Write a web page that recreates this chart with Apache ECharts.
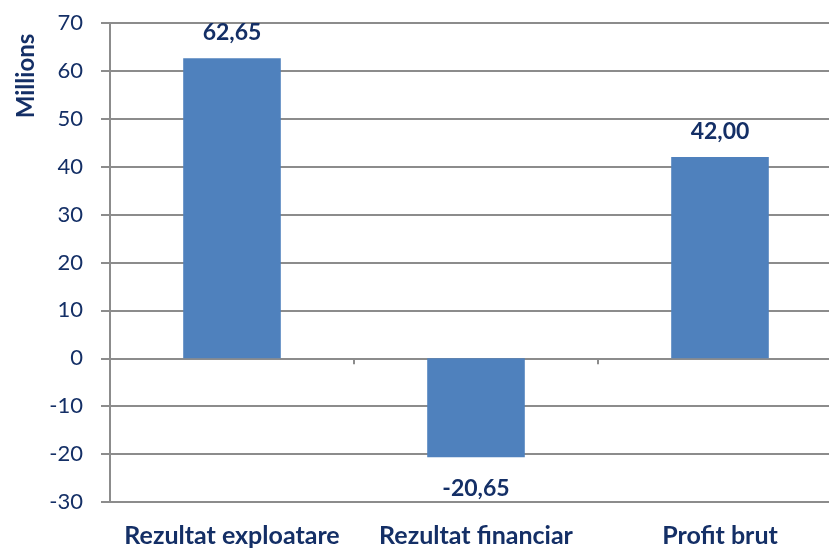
<!DOCTYPE html>
<html>
<head>
<meta charset="utf-8">
<script src="https://cdn.jsdelivr.net/npm/echarts@6/dist/echarts.min.js"></script>
<style>
html, body { margin: 0; padding: 0; background: #fff; }
#chart { width: 829px; height: 548px; }
</style>
</head>
<body>
<div id="chart"></div>
<script>
var categories = ['Rezultat exploatare', 'Rezultat financiar', 'Profit brut'];
var values = [62.65, -20.65, 42.00];
var yMin = -30, yMax = 70, yStep = 10;

var textColor = '#142F66';
var lineColor = '#8C8C8C';
var font = 'Lato';

var myChart = echarts.init(document.getElementById('chart'));
var option = {
    animation: false,
    textStyle: { fontFamily: font },
    grid: { left: 110, top: 23, width: 732, height: 479, containLabel: false, outerBoundsMode: 'none' },
    graphic: [{
        type: 'text',
        x: 26, y: 76,
        rotation: Math.PI / 2,
        style: {
            text: 'Millions',
            fill: textColor,
            font: 'bold 24px Lato',
            textAlign: 'center',
            textVerticalAlign: 'middle'
        }
    }],
    xAxis: [{
        type: 'category',
        data: categories,
        position: 'bottom',
        axisLine: { onZero: false, lineStyle: { color: lineColor, width: 2 } },
        axisTick: { show: false },
        axisLabel: { color: textColor, fontWeight: 'bold', fontSize: 25, margin: 21, fontFamily: font, interval: 0, hideOverlap: false }
    }, {
        type: 'category',
        data: categories,
        position: 'bottom',
        axisLine: { onZero: true, lineStyle: { color: lineColor, width: 2 } },
        axisTick: { show: true, length: 6, lineStyle: { color: lineColor, width: 2 } },
        axisLabel: { show: false }
    }],
    yAxis: {
        type: 'value',
        min: yMin, max: yMax, interval: yStep,
        axisLine: { show: true, lineStyle: { color: lineColor, width: 2 } },
        axisTick: { show: true, length: 9, lineStyle: { color: lineColor, width: 2 } },
        splitLine: { show: true, lineStyle: { color: lineColor, width: 2 } },
        axisLabel: { color: textColor, fontSize: 22, margin: 27, fontFamily: font }
    },
    series: [{
        type: 'bar',
        xAxisIndex: 0,
        data: values.map(function (v) {
            // negative bar label goes below the bar
            return v < 0 ? { value: v, label: { position: 'bottom', distance: 20 } } : v;
        }),
        barWidth: '40%',
        itemStyle: { color: '#4F81BD' },
        label: {
            show: true,
            position: 'top',
            distance: 14,
            color: textColor,
            fontWeight: 'bold',
            fontSize: 23,
            fontFamily: font,
            formatter: function (p) { return p.value.toFixed(2).replace('.', ','); }
        }
    }]
};
myChart.setOption(option);
</script>
</body>
</html>
